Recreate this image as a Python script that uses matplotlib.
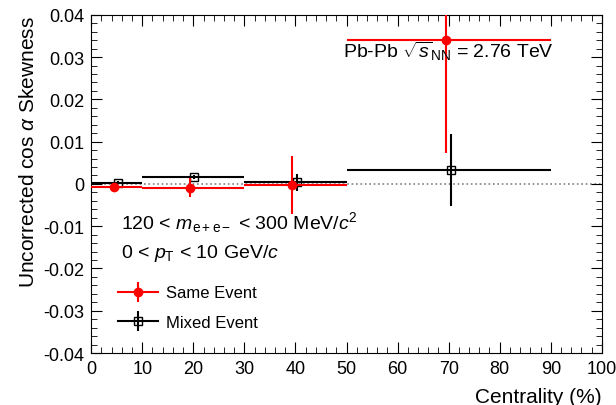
import matplotlib
matplotlib.use("Agg")
import matplotlib.pyplot as plt
from matplotlib.lines import Line2D
from matplotlib.ticker import MultipleLocator

plt.rcParams['font.family'] = ['Liberation Sans', 'DejaVu Sans']
plt.rcParams['mathtext.fontset'] = 'custom'
plt.rcParams['mathtext.rm'] = 'Liberation Sans'
plt.rcParams['mathtext.it'] = 'Liberation Sans:italic'

# === DONNEES ===
bin_lo = [0, 10, 30, 50]
bin_hi = [10, 30, 50, 90]

same_x = [4.5, 19.4, 39.3, 69.5]
same_y = [-0.0008, -0.0009, -0.0003, 0.0340]
same_err = [0.0003, 0.0023, 0.0068, 0.0266]

mixed_x = [5.2, 20.2, 40.3, 70.5]
mixed_y = [0.0003, 0.0016, 0.0004, 0.0032]
mixed_err = [0.0003, 0.0005, 0.0020, 0.0085]

x_ticks = [0, 10, 20, 30, 40, 50, 60, 70, 80, 90, 100]
y_ticks = [-0.04, -0.03, -0.02, -0.01, 0, 0.01, 0.02, 0.03, 0.04]
y_tick_labels = ["-0.04", "-0.03", "-0.02", "-0.01", "0", "0.01", "0.02", "0.03", "0.04"]

# === FIGURE ===
fig = plt.figure(figsize=(6.16, 4.06), dpi=100)
ax = fig.add_axes([0.148, 0.128, 0.829, 0.833])

ax.axhline(0, color="gray", linestyle=":", linewidth=1.2, zorder=1)


def xerrs(xs):
    lo = [x - a for x, a in zip(xs, bin_lo)]
    hi = [b - x for x, b in zip(xs, bin_hi)]
    return [lo, hi]


ax.errorbar(mixed_x, mixed_y, xerr=xerrs(mixed_x), yerr=mixed_err,
            fmt="s", color="black", mfc="none", mec="black", ms=6,
            elinewidth=1.5, capsize=0, zorder=2)
ax.errorbar(same_x, same_y, xerr=xerrs(same_x), yerr=same_err,
            fmt="o", color="red", mfc="red", mec="red", ms=6,
            elinewidth=1.5, capsize=0, zorder=3)

ax.set_xlim(0, 100)
ax.set_ylim(-0.04, 0.04)
ax.set_xticks(x_ticks)
ax.set_yticks(y_ticks)
ax.set_yticklabels(y_tick_labels)
ax.xaxis.set_minor_locator(MultipleLocator(2))
ax.yaxis.set_minor_locator(MultipleLocator(0.002))
ax.tick_params(which="both", direction="in", top=True, right=True, labelsize=13)
ax.tick_params(which="major", length=8)
ax.tick_params(which="minor", length=4)
ax.tick_params(axis="x", pad=5)
ax.tick_params(axis="y", pad=5)

ax.set_xlabel("Centrality (%)", fontsize=15, loc="right", labelpad=7)
ax.set_ylabel(r"Uncorrected cos $\alpha$ Skewness", fontsize=15, loc="top", labelpad=4)

ax.text(49.3, 0.0300, r"Pb-Pb $\sqrt{s}_{\mathrm{NN}}$ = 2.76 TeV", fontsize=14, va="baseline")
ax.text(5.8, -0.0105, r"120 < $m_{\mathrm{e+e-}}$ < 300 MeV/$c^2$", fontsize=14, va="baseline")
ax.text(5.8, -0.0173, r"0 < $p_{\mathrm{T}}$ < 10 GeV/$c$", fontsize=14, va="baseline")

# legende facon ROOT : trait horizontal + barre verticale
same_h = (Line2D([], [], color="red", marker="o", ms=6, lw=1.5),
          Line2D([], [], color="red", marker="|", ms=14, mew=1.5, ls="none"))
mixed_h = (Line2D([], [], color="black", marker="s", mfc="none", ms=6, lw=1.5),
           Line2D([], [], color="black", marker="|", ms=14, mew=1.5, ls="none"))
ax.legend([same_h, mixed_h], ["Same Event", "Mixed Event"], loc="lower left",
          bbox_to_anchor=(0.023, 0.025), frameon=False, fontsize=12,
          handlelength=2.4, handletextpad=0.5, labelspacing=0.85)

plt.savefig("out.png", dpi=100)
plt.close()
